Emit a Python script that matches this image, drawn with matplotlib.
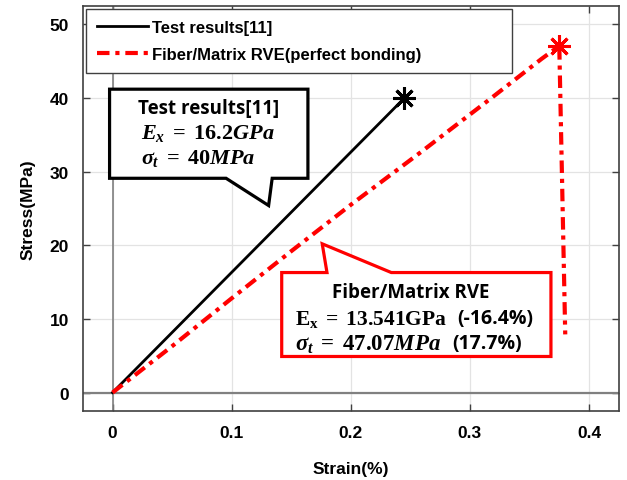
import numpy as np
import matplotlib
matplotlib.use("Agg")
import matplotlib.pyplot as plt
from matplotlib.patches import Polygon

plt.rcParams['font.family'] = ['Liberation Sans', 'DejaVu Sans']
plt.rcParams['mathtext.fontset'] = 'custom'
plt.rcParams['mathtext.rm'] = 'Liberation Serif:bold'
plt.rcParams['mathtext.it'] = 'Liberation Serif:bold:italic'
plt.rcParams['mathtext.bf'] = 'Liberation Serif:bold'

# data
test_strain = [0.0, 0.245]
test_stress = [0.0, 40.0]
rve_strain = [0.0, 0.05, 0.10, 0.15, 0.20, 0.26, 0.318, 0.36, 0.375, 0.380]
rve_stress = [0.0, 6.3, 12.8, 19.2, 25.5, 32.8, 40.0, 45.3, 47.07, 7.9]
test_label = "Test results[11]"
rve_label = "Fiber/Matrix RVE(perfect bonding)"
x_ticks = [0, 0.1, 0.2, 0.3, 0.4]
x_tick_labels = ["0", "0.1", "0.2", "0.3", "0.4"]
y_ticks = [0, 10, 20, 30, 40, 50]

head_font = ['Open Sans', 'DejaVu Sans']

fig = plt.figure(figsize=(6.27, 4.81), dpi=100)
ax = fig.add_axes([0.132, 0.1435, 0.855, 0.842])

ax.set_xlim(-0.025, 0.425)
ax.set_ylim(-2.5, 52.5)
ax.grid(True, color='#e3e3e3', lw=0.9)
ax.set_axisbelow(True)
ax.axhline(0, color='#808080', lw=1.6, zorder=1)
ax.axvline(0, color='#808080', lw=1.2, zorder=1)

ax.plot(test_strain, test_stress, color='black', lw=2, label=test_label, zorder=3)
ax.plot(test_strain[-1], test_stress[-1], marker=(8, 2, 0), ms=16, mew=2.2,
        color='black', zorder=4)
ax.plot(rve_strain, rve_stress, color='red', lw=3, ls=(0, (3, 1.4, 1, 1.4)),
        label=rve_label, zorder=3)
peak = int(np.argmax(rve_stress))
ax.plot(rve_strain[peak], rve_stress[peak], marker=(8, 2, 0), ms=16, mew=2.2,
        color='red', zorder=4)

ax.set_xticks(x_ticks)
ax.set_xticklabels(x_tick_labels)
ax.set_yticks(y_ticks)
ax.tick_params(direction='in', top=True, right=True, length=5, width=1,
               color='#404040', labelsize=12.5, pad=10)
for lab in ax.get_xticklabels() + ax.get_yticklabels():
    lab.set_fontweight('bold')
for sp in ax.spines.values():
    sp.set_color('#404040')
    sp.set_linewidth(1.2)

ax.set_xlabel("Strain(%)", fontsize=12.5, fontweight='bold', labelpad=15)
ax.set_ylabel("Stress(MPa)", fontsize=12.5, fontweight='bold', labelpad=10)

leg = ax.legend(loc='upper left', bbox_to_anchor=(0.006, 0.993, 0.795, 0.0),
                mode='expand', borderaxespad=0, fancybox=False,
                edgecolor='#404040', framealpha=1, handlelength=3.1,
                handletextpad=0.2, borderpad=0.65, labelspacing=0.75,
                prop={'family': 'Liberation Sans', 'weight': 'bold', 'size': 12})
leg.get_frame().set_linewidth(1.0)

# callout bubbles
black_box = [(-0.0025, 41.2), (0.164, 41.2), (0.164, 29.1), (0.134, 29.1),
             (0.131, 25.4), (0.0953, 29.1), (-0.0025, 29.1)]
ax.add_patch(Polygon(black_box, closed=True, facecolor='white',
                     edgecolor='black', lw=2.3, zorder=5))
red_box = [(0.142, 16.3), (0.18, 16.3), (0.176, 20.2), (0.234, 16.3),
           (0.368, 16.3), (0.368, 4.9), (0.142, 4.9)]
ax.add_patch(Polygon(red_box, closed=True, facecolor='white',
                     edgecolor='red', lw=2.3, zorder=5))

ax.text(0.081, 38.7, "Test results[11]", ha='center', va='center',
        fontsize=13.5, fontweight='bold', family=head_font, zorder=6)
ax.text(0.0235, 35.3, r"$E_x\;=\;16.2GPa$", ha='left', va='center',
        fontsize=16, zorder=6)
ax.text(0.0235, 31.9, r"$\sigma_t\;=\;40MPa$", ha='left', va='center',
        fontsize=16, zorder=6)

ax.text(0.25, 13.6, "Fiber/Matrix RVE", ha='center', va='center',
        fontsize=13.5, fontweight='bold', family=head_font, zorder=6)
ax.text(0.1535, 10.1, r"$\mathrm{E_x\;=\;13.541GPa}$", ha='left',
        va='center', fontsize=15.5, zorder=6)
ax.text(0.2895, 10.1, "(-16.4%)", ha='left', va='center', fontsize=14,
        fontweight='bold', family=head_font, zorder=6)
ax.text(0.1535, 6.7, r"$\sigma_t\;=\;47.07MPa$", ha='left',
        va='center', fontsize=16.5, zorder=6)
ax.text(0.2855, 6.7, "(17.7%)", ha='left', va='center', fontsize=14,
        fontweight='bold', family=head_font, zorder=6)

fig.savefig("out.png", dpi=100)
